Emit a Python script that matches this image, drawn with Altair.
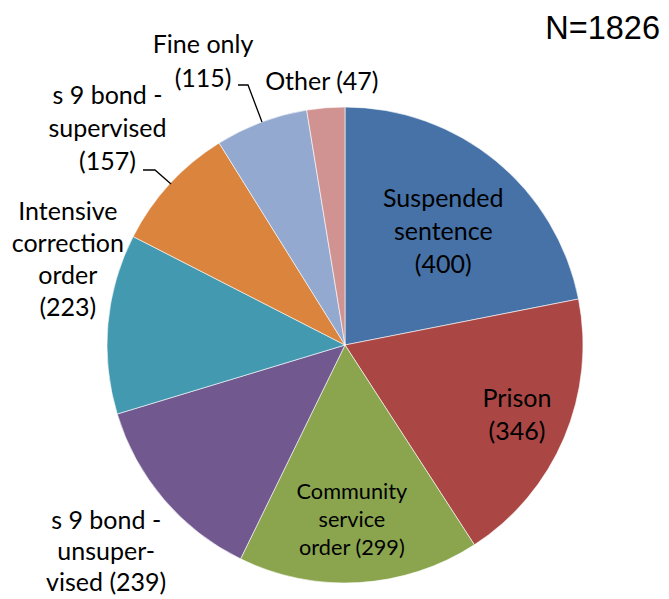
import math
import altair as alt
import pandas as pd

# ---- data ----
categories = ["Suspended sentence", "Prison", "Community service order",
              "s 9 bond - unsupervised", "Intensive correction order",
              "s 9 bond - supervised", "Fine only", "Other"]
counts = [400, 346, 299, 239, 223, 157, 115, 47]
label_lines = [["Suspended", "sentence", "(400)"], ["Prison", "(346)"],
               ["Community", "service", "order (299)"],
               ["s 9 bond -", "unsuper-", "vised (239)"],
               ["Intensive", "correction", "order", "(223)"],
               ["s 9 bond -", "supervised", "(157)"], ["Fine only", "(115)"], ["Other (47)"]]
colors = ["#4672A8", "#AA4644", "#8AA54E", "#71588F", "#4299B0", "#DB843D", "#93A9CF", "#D19392"]
total_text = "N=1826"

# ---- layout (label placement relative to slice middle) ----
label_angle_offset_deg = [1.5, -0.6, 1.2, -0.5, 12.0, -0.3, -6.0, -0.4]
label_radius = [150, 186, 175, 316, 290, 321, 317, 264]
label_font_size = [25, 25, 21.7, 25, 25, 25, 25, 25]
label_line_height = [33, 33, 28, 31, 32, 33, 34, 33]
leader_lines = [  # (line id, x, y) in pixels
    ("fine", 230, 77), ("fine", 240, 77), ("fine", 254, 114),
    ("sup", 135, 162), ("sup", 147, 162), ("sup", 163, 176),
]
CX, CY, R = 337, 337, 238

total = sum(counts)
cum = 0
mids = []
for c in counts:
    mids.append(cum + c / 2)
    cum += c

df = pd.DataFrame({
    "category": categories,
    "value": counts,
    "order": list(range(len(counts))),
    "label": label_lines,
    "label_pos": [m + o / 360 * total for m, o in zip(mids, label_angle_offset_deg)],
    "label_r": label_radius,
})

theta_scale = alt.Scale(domain=[0, total], range=[0, 2 * math.pi])

arcs = alt.Chart(df).mark_arc(outerRadius=R, stroke="white", strokeWidth=0.6).encode(
    theta=alt.Theta("value:Q", stack=True, scale=theta_scale),
    color=alt.Color("category:N", scale=alt.Scale(domain=categories, range=colors), legend=None),
    order=alt.Order("order:Q"),
    x=alt.value(CX), y=alt.value(CY),
)

label_layers = []
for i, lines in enumerate(label_lines):
    lh = label_line_height[i]
    label_layers.append(
        alt.Chart(df).transform_filter(f"datum.order == {i}").mark_text(
            align="center", baseline="middle", font="Lato",
            fontSize=label_font_size[i], lineHeight=lh, color="black",
            dy=-(len(lines) - 1) * lh / 2,
        ).encode(
            theta=alt.Theta("label_pos:Q", stack=False, scale=theta_scale),
            radius=alt.Radius("label_r:Q", scale=None),
            text=alt.Text("label"),
            x=alt.value(CX), y=alt.value(CY),
        )
    )

lines_df = pd.DataFrame(leader_lines, columns=["lid", "x", "y"])
lines_df["i"] = range(len(lines_df))
leaders = alt.Chart(lines_df).mark_line(color="black", strokeWidth=1.3).encode(
    x=alt.X("x:Q", scale=None), y=alt.Y("y:Q", scale=None),
    detail="lid:N", order="i:Q",
)

ntext = alt.Chart(pd.DataFrame({"t": [total_text]})).mark_text(
    font="Liberation Sans", fontSize=32.5, align="right", baseline="middle", color="black",
).encode(text="t:N", x=alt.value(652), y=alt.value(21))

chart = alt.layer(arcs, leaders, *label_layers, ntext).properties(
    width=653, height=590, padding=0, autosize="none",
).configure_view(stroke=None)

chart.save("out.html", embed_options={"renderer": "svg", "actions": False})
